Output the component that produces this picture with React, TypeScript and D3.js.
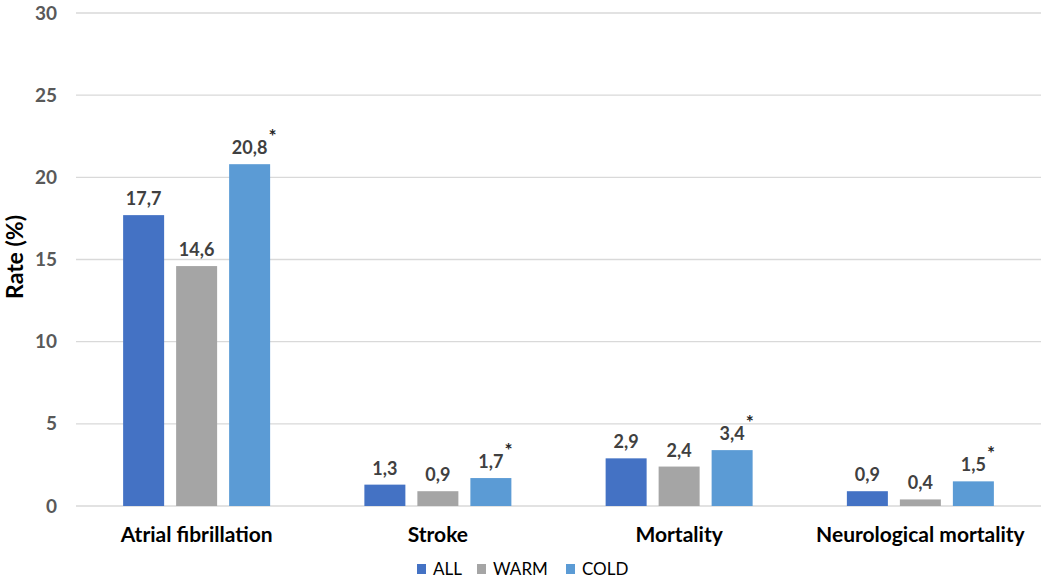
import React from "react";
import * as d3 from "d3";

const categories = ["Atrial fibrillation", "Stroke", "Mortality", "Neurological mortality"];
const seriesNames = ["ALL", "WARM", "COLD"];
const allValues = [17.7, 1.3, 2.9, 0.9];
const warmValues = [14.6, 0.9, 2.4, 0.4];
const coldValues = [20.8, 1.7, 3.4, 1.5];
const coldSignificant = [true, true, true, true];
const yTicks = [0, 5, 10, 15, 20, 25, 30];
const colors = ["#4472C4", "#A5A5A5", "#5B9BD5"];

const W = 1050;
const H = 580;
const FONT = "Lato, 'Open Sans', sans-serif";

export default function App() {
  const left = 76, right = 1041, top = 13, bottom = 506;
  const x = d3.scaleBand<string>().domain(categories).range([left, right]);
  const y = d3.scaleLinear().domain([0, 30]).range([bottom, top]);
  const barW = 41, gap = 12;
  const groupW = barW * 3 + gap * 2;
  const seriesValues = [allValues, warmValues, coldValues];
  const fmt = (v: number) => v.toFixed(1).replace(".", ",");
  const labelSize = 18;
  const estWidth = (s: string) => {
    let w = 0;
    for (const ch of s) w += ch === "," ? 0.25 : 0.58;
    return w * labelSize;
  };

  const legendItems = [
    { name: seriesNames[0], sx: 417 },
    { name: seriesNames[1], sx: 477 },
    { name: seriesNames[2], sx: 566 },
  ];

  return (
    <svg width={W} height={H} style={{ position: "absolute", left: 0, top: 0, background: "#fff" }} fontFamily={FONT}>
      <rect width={W} height={H} fill="#fff" />
      {yTicks.map((t) => (
        <g key={t}>
          <line x1={left} x2={right} y1={y(t)} y2={y(t)} stroke="#D9D9D9" strokeWidth={1.3} />
          <text x={57} y={y(t)} dy="0.35em" textAnchor="end" fontSize={19} fontWeight={700} fill="#595959">
            {t}
          </text>
        </g>
      ))}
      <text
        transform={`translate(23,${257}) rotate(-90)`}
        textAnchor="middle"
        fontSize={23}
        fontWeight={700}
        fill="#000"
      >
        Rate (%)
      </text>
      {categories.map((c, ci) => {
        const cx = (x(c) as number) + x.bandwidth() / 2;
        const x0 = cx - groupW / 2;
        return (
          <g key={c}>
            {seriesValues.map((vals, si) => {
              const bx = x0 + si * (barW + gap);
              const v = vals[ci];
              const lbl = fmt(v);
              const lx = bx + barW / 2;
              const ly = y(v) - 10;
              return (
                <g key={si}>
                  <rect x={bx} y={y(v)} width={barW} height={y(0) - y(v)} fill={colors[si]} />
                  <text x={lx} y={ly} textAnchor="middle" fontSize={labelSize} fontWeight={700} fill="#404040">
                    {lbl}
                  </text>
                  {si === 2 && coldSignificant[ci] && (
                    <text
                      x={lx + estWidth(lbl) / 2 + 5}
                      y={ly - 11}
                      textAnchor="middle"
                      fontSize={19}
                      fontWeight={700}
                      fill="#262626"
                    >
                      *
                    </text>
                  )}
                </g>
              );
            })}
            <text x={cx} y={542} textAnchor="middle" fontSize={21} fontWeight={700} fill="#000">
              {c}
            </text>
          </g>
        );
      })}
      {legendItems.map((it, i) => (
        <g key={it.name}>
          <rect x={it.sx} y={564} width={9} height={10} fill={colors[i]} />
          <text x={it.sx + 16} y={575} fontSize={17} fill="#000">
            {it.name}
          </text>
        </g>
      ))}
    </svg>
  );
}
